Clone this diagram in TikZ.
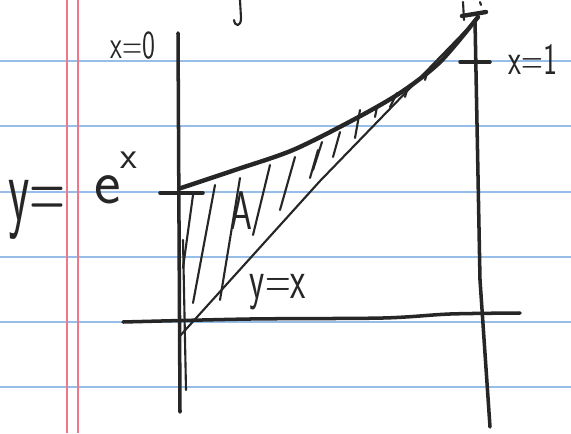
\documentclass[tikz,border=0pt]{standalone}
\usetikzlibrary{positioning}
\definecolor{ruleblue}{RGB}{150,190,232}
\definecolor{marginred}{RGB}{238,120,135}
\definecolor{ink}{RGB}{38,38,38}

\begin{document}
\begin{tikzpicture}[x=0.02cm,y=-0.02cm,
  every node/.style={font=\sffamily,text=ink,inner sep=0pt},
  ruled/.style={ruleblue,line width=0.7pt},
  margin/.style={marginred,line width=0.6pt},
  axis/.style={ink,line width=2pt,line cap=round},
  curve/.style={ink,line width=2.5pt,line cap=round,line join=round},
  pen/.style={ink,line width=1.2pt,line cap=round}]
\useasboundingbox[fill=white] (0,0) rectangle (571,433);
% paper
\foreach \yy in {61,126,192,257,322,387}
  \draw[ruled] (0,\yy) -- (571,\yy);
\draw[margin] (67,0) -- (67,433);
\draw[margin] (78,0) -- (78,433);
\draw[pen] (240,0) -- (241,18) .. controls (241,27) and (235,27) .. (234,20);
\draw[pen] (463,2) -- (464,20);
\draw[pen] (480,2) -- (481,5);
% axes and ticks
\draw[axis] (178,33) -- (180,412);
\draw[pen] (183,240) -- (186,390);
\draw[axis] plot[smooth] coordinates {(123,322) (250,319) (383,318) (450,314) (520,313)};
\draw[axis] (475,20) -- (480,280) -- (490,427);
\draw[axis] (460,62) -- (490,62);
\draw[axis] (160,193) -- (203,193);
% y = e^x and y = x
\draw[curve] plot[smooth] coordinates {(181,188) (235,170) (293,150) (353,120) (400,93) (440,62) (478,17)};
\draw[curve] (462,16) -- (486,12);
\draw[pen] (179,337) -- (320,181) -- (476,20);
\foreach \xa/\ya/\xb/\yb in {183/268/193/195, 193/303/215/185, 220/300/240/178,
    253/235/270/165, 280/210/295/157, 310/178/318/150, 313/170/322/142,
    333/157/340/132, 355/138/360/110, 375/117/377/107, 390/107/397/93,
    405/97/408/87, 425/80/428/70}
  \draw[pen] (\xa,\ya) -- (\xb,\yb);
% labels
\node[anchor=base] (xzero) at (133,58) {\scalebox{1}[1.5]{\fontsize{15}{15}\selectfont x=0}};
\node[anchor=base] (xone) at (533,74) {\scalebox{1}[1.5]{\fontsize{17}{17}\selectfont x=1}};
\node[anchor=base] (area) at (241,229) {\scalebox{1}[1.55]{\fontsize{20}{20}\selectfont A}};
\node[anchor=base] (yeqx) at (278,298) {\scalebox{1}[1.6]{\fontsize{20}{20}\selectfont y=x}};
\node[anchor=base west] (yeq) at (8,220) {\scalebox{1}[1.9]{\fontsize{28}{28}\selectfont y=}};
\node[anchor=base west] (expx) at (94,203) {\fontsize{36}{36}\selectfont e\raisebox{0.55em}{\fontsize{22}{22}\selectfont x}};
\end{tikzpicture}
\end{document}
